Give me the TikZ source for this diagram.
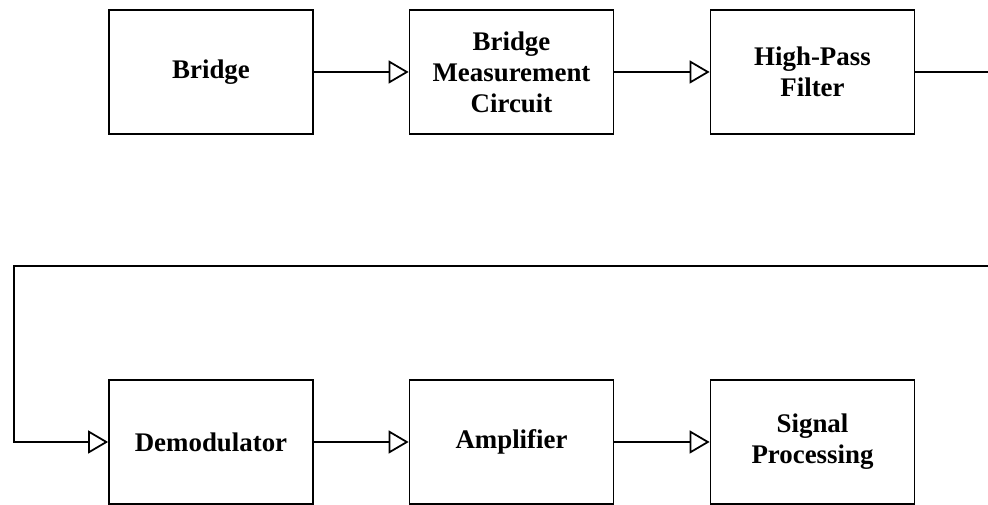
\documentclass[tikz,border=0pt]{standalone}
\usepackage{fontspec}
\setmainfont{Liberation Serif}
\usetikzlibrary{arrows.meta,positioning}

\begin{document}
\begin{tikzpicture}[
    box/.style={draw, minimum width=4.08cm, minimum height=2.48cm,
                align=center, font=\fontsize{15.3}{17.6}\selectfont\bfseries, line width=1pt},
    arr/.style={-{Triangle[open, length=0.4cm, width=0.46cm]}, line width=1pt}
]
\useasboundingbox (0,0) rectangle (19.76,10.1);

\node[box] (bridge) at (4.22, 8.66) {Bridge};
\node[box] (measure) at (10.23, 8.66) {Bridge\\Measurement\\Circuit};
\node[box] (highpass) at (16.25, 8.66) {High-Pass\\Filter};

\node[box] (demod) at (4.22, 1.26) {Demodulator};
\node[box] (amp) at (10.23, 1.26) {Amplifier};
\node[box] (sigproc) at (16.25, 1.26) {Signal\\Processing};

\coordinate (outright) at (19.76, 8.66);
\coordinate (loopright) at (19.76, 4.78);
\coordinate (loopleft) at (0.28, 4.78);

\draw[arr] (bridge) -- (measure);
\draw[arr] (measure) -- (highpass);
\draw[line width=1pt] (highpass) -- (outright);
\draw[arr] (loopright) -- (loopleft) |- (demod);
\draw[arr] (demod) -- (amp);
\draw[arr] (amp) -- (sigproc);

\end{tikzpicture}
\end{document}
